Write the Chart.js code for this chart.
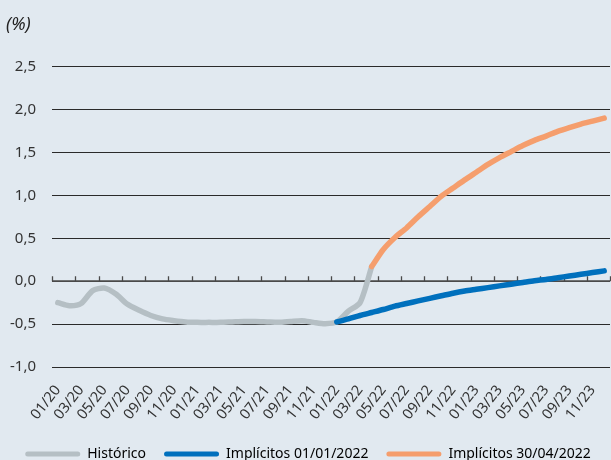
<!DOCTYPE html>
<html>
<head>
<meta charset="utf-8">
<script src="https://cdn.jsdelivr.net/npm/chart.js@4/dist/chart.umd.min.js"></script>
<style>
  html, body { margin: 0; padding: 0; background: #e1e9f0; }
  #wrap { width: 611px; height: 460px; position: relative; }
</style>
</head>
<body>
<div id="wrap"><canvas id="c"></canvas></div>
<script>
// Monthly categories, 01/20 .. 12/23
const months = [
  '01/20','02/20','03/20','04/20','05/20','06/20','07/20','08/20','09/20','10/20','11/20','12/20',
  '01/21','02/21','03/21','04/21','05/21','06/21','07/21','08/21','09/21','10/21','11/21','12/21',
  '01/22','02/22','03/22','04/22','05/22','06/22','07/22','08/22','09/22','10/22','11/22','12/22',
  '01/23','02/23','03/23','04/23','05/23','06/23','07/23','08/23','09/23','10/23','11/23','12/23'
];

// Historical rate (%)
const historico = [
  -0.25, -0.285, -0.26, -0.11, -0.08, -0.15, -0.27, -0.34, -0.40, -0.44, -0.46, -0.475,
  -0.48, -0.48, -0.48, -0.475, -0.47, -0.47, -0.475, -0.48, -0.47, -0.46, -0.48, -0.495,
  -0.475, -0.35, -0.25, 0.17, null, null, null, null, null, null, null, null,
  null, null, null, null, null, null, null, null, null, null, null, null
];

// Implied path as of 01/01/2022 (%)
const implicitos0101 = [
  null, null, null, null, null, null, null, null, null, null, null, null,
  null, null, null, null, null, null, null, null, null, null, null, null,
  -0.475, -0.44, -0.40, -0.365, -0.33, -0.29, -0.26, -0.23, -0.20, -0.17, -0.14, -0.115,
  -0.095, -0.075, -0.055, -0.035, -0.015, 0.005, 0.02, 0.04, 0.06, 0.08, 0.10, 0.12
];

// Implied path as of 30/04/2022 (%)
const implicitos3004 = [
  null, null, null, null, null, null, null, null, null, null, null, null,
  null, null, null, null, null, null, null, null, null, null, null, null,
  null, null, null, 0.17, 0.37, 0.51, 0.62, 0.75, 0.87, 0.99, 1.085, 1.18,
  1.27, 1.36, 1.44, 1.51, 1.58, 1.64, 1.69, 1.745, 1.79, 1.83, 1.865, 1.90
];

// Y axis range and step
const yMin = -1.0, yMax = 2.5, yStep = 0.5;

const GRAY = '#b5bfc4', BLUE = '#0070bd', ORANGE = '#f59e6d';
const FONT = '"Noto Sans", "Open Sans", sans-serif';

// Zero line with short upward tick marks every two months
const zeroAxis = {
  id: 'zeroAxis',
  beforeDatasetsDraw(chart) {
    const { ctx, chartArea, scales: { x, y } } = chart;
    const y0 = y.getPixelForValue(0);
    const step = x.getPixelForValue(1) - x.getPixelForValue(0);
    ctx.save();
    ctx.strokeStyle = '#4a4a4a';
    ctx.lineWidth = 1.6;
    ctx.beginPath();
    ctx.moveTo(chartArea.left, y0);
    ctx.lineTo(chartArea.right, y0);
    ctx.stroke();
    ctx.lineWidth = 1.3;
    ctx.beginPath();
    for (let i = 0; i <= months.length; i += 2) {
      const px = Math.round(x.getPixelForValue(0) + (i - 0.5) * step) + 0.5;
      ctx.moveTo(px, y0);
      ctx.lineTo(px, y0 - 5);
    }
    ctx.stroke();
    ctx.restore();
  }
};

new Chart(document.getElementById('c'), {
  type: 'line',
  data: {
    labels: months,
    datasets: [
      { label: 'Histórico', data: historico, borderColor: GRAY, backgroundColor: GRAY, borderWidth: 5.5, order: 3 },
      { label: 'Implícitos 01/01/2022', data: implicitos0101, borderColor: BLUE, backgroundColor: BLUE, borderWidth: 5.5, order: 1 },
      { label: 'Implícitos 30/04/2022', data: implicitos3004, borderColor: ORANGE, backgroundColor: ORANGE, borderWidth: 5.5, order: 2 }
    ]
  },
  options: {
    responsive: true,
    maintainAspectRatio: false,
    animation: false,
    layout: { padding: { left: 6, right: 1, top: 0, bottom: -11 } },
    elements: {
      point: { radius: 0, hoverRadius: 0 },
      line: { tension: 0.25, borderCapStyle: 'round', borderJoinStyle: 'round', fill: false }
    },
    scales: {
      x: {
        type: 'category',
        offset: true,
        grid: { display: false },
        border: { display: false },
        afterFit(s) { s.height = 62; s.paddingLeft = 0; s.paddingRight = 0; },
        ticks: {
          autoSkip: false,
          minRotation: 52,
          maxRotation: 52,
          padding: 7,
          color: '#333',
          font: { family: FONT, size: 14.5 },
          callback(v, i) { return i % 2 === 0 ? months[i] : ''; }
        }
      },
      y: {
        min: yMin,
        max: yMax,
        border: { display: false },
        afterFit(s) { s.width = 46; },
        grid: {
          color: (c) => c.tick && c.tick.value === 0 ? 'rgba(0,0,0,0)' : '#2a2a2a',
          lineWidth: 1,
          drawTicks: false
        },
        ticks: {
          stepSize: yStep,
          padding: 16,
          color: '#333',
          font: { family: FONT, size: 15 },
          callback: (v) => v.toFixed(1).replace('.', ',')
        }
      }
    },
    plugins: {
      title: {
        display: true,
        text: '(%)',
        align: 'start',
        color: '#222',
        font: { family: FONT, size: 18, style: 'italic', weight: 'normal' },
        padding: { top: 14, bottom: 31 }
      },
      legend: {
        position: 'bottom',
        labels: {
          boxWidth: 55,
          boxHeight: 5,
          padding: 18,
          color: '#222',
          useBorderRadius: true,
          borderRadius: 2.5,
          font: { family: FONT, size: 14 },
          generateLabels(chart) {
            return chart.data.datasets.map((ds, i) => ({
              text: ds.label,
              fillStyle: ds.borderColor,
              strokeStyle: ds.borderColor,
              lineWidth: 0,
              borderRadius: 2.5,
              datasetIndex: i,
              hidden: false
            }));
          }
        }
      },
      tooltip: { enabled: false }
    }
  },
  plugins: [zeroAxis]
});
</script>
</body>
</html>
